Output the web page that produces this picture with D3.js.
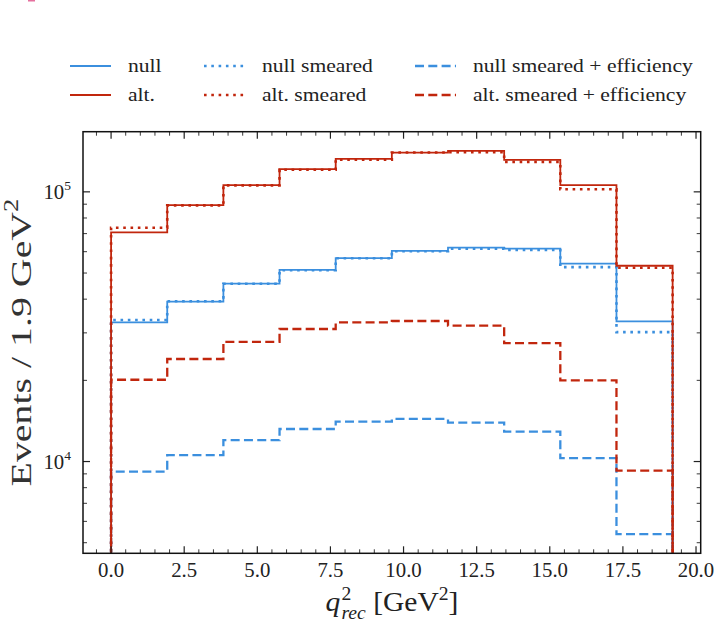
<!DOCTYPE html>
<html lang="en">
<head>
<meta charset="UTF-8">
<title>q2 rec histogram</title>
<script src="https://d3js.org/d3.v7.min.js"></script>
<style>
    body { margin: 0; padding: 0; background: #fff; }
    svg { display: block; }
    text { font-family: 'Liberation Serif', 'DejaVu Serif', serif; fill: #222; }
</style>
</head>
<body>
<svg id="chart" width="718" height="628"></svg>
<script>
// bin edges in GeV^2 (10 bins of 1.92)
const binEdges = [0, 1.92, 3.84, 5.76, 7.68, 9.6, 11.52, 13.44, 15.36, 17.28, 19.2];

// events per bin
const nullTrue      = [32800, 39200, 45700, 51400, 56800, 60400, 62100, 61600, 54200, 33100];
const altTrue       = [70700, 89300, 105900, 121400, 132600, 139900, 141900, 131500, 105900, 53200];
const nullSmeared   = [33500, 39300, 45600, 51200, 56700, 60200, 61500, 60900, 52600, 30200];
const altSmeared    = [73600, 89100, 105700, 120700, 131500, 139900, 140400, 129200, 102300, 52300];
const nullEff       = [9180, 10560, 12000, 13200, 14070, 14400, 13950, 12900, 10300, 5380];
const altEff        = [20100, 24000, 27800, 31000, 32800, 33200, 31900, 27500, 20000, 9260];

const xTicks = [0, 2.5, 5, 7.5, 10, 12.5, 15, 17.5, 20];

const blue = "#3b8fde";
const red = "#c1260d";

const series = [
    { name: "null", values: nullTrue, color: blue, style: "solid" },
    { name: "null smeared", values: nullSmeared, color: blue, style: "dotted" },
    { name: "null smeared + efficiency", values: nullEff, color: blue, style: "dashed" },
    { name: "alt.", values: altTrue, color: red, style: "solid" },
    { name: "alt. smeared", values: altSmeared, color: red, style: "dotted" },
    { name: "alt. smeared + efficiency", values: altEff, color: red, style: "dashed" }
];

const styles = {
    solid:  { width: 1.8, dash: null },
    dotted: { width: 2.6, dash: "2.6,4.7" },
    dashed: { width: 2.3, dash: "9,4.3" }
};

const svg = d3.select("#chart");
const pLeft = 83, pRight = 700.7, pTop = 131.7, pBottom = 553.3;

// matplotlib style 5% margins
const xMin = binEdges[0], xMax = binEdges[binEdges.length - 1];
const xPad = (xMax - xMin) * 0.05;
const x = d3.scaleLinear().domain([xMin - xPad, xMax + xPad]).range([pLeft, pRight]);

const allVals = series.flatMap(s => s.values);
const lMin = Math.log10(d3.min(allVals)), lMax = Math.log10(d3.max(allVals));
const lPad = (lMax - lMin) * 0.05;
const y = d3.scaleLog().domain([10 ** (lMin - lPad), 10 ** (lMax + lPad)]).range([pBottom, pTop]);

svg.append("defs").append("clipPath").attr("id", "plot-clip")
    .append("rect").attr("x", pLeft).attr("y", pTop)
    .attr("width", pRight - pLeft).attr("height", pBottom - pTop);

// step outlines
const line = d3.line();
function stepPoints(values) {
    const pts = [[x(binEdges[0]), pBottom + 20]];
    values.forEach((v, i) => {
        pts.push([x(binEdges[i]), y(v)]);
        pts.push([x(binEdges[i + 1]), y(v)]);
    });
    pts.push([x(binEdges[binEdges.length - 1]), pBottom + 20]);
    return pts;
}

const plot = svg.append("g").attr("clip-path", "url(#plot-clip)");
plot.selectAll("path")
    .data(series)
    .enter().append("path")
    .attr("d", d => line(stepPoints(d.values)))
    .attr("fill", "none")
    .attr("stroke", d => d.color)
    .attr("stroke-width", d => styles[d.style].width)
    .attr("stroke-dasharray", d => styles[d.style].dash)
    .attr("stroke-linejoin", "miter");

// ticks, all pointing inward on all four sides
const ticks = svg.append("g").attr("stroke", "#222");
const xMinor = d3.range(-0.5, 20.5, 0.5).filter(v => x(v) >= pLeft && x(v) <= pRight && v % 2.5 !== 0);
xTicks.forEach(v => {
    ticks.append("line").attr("x1", x(v)).attr("x2", x(v)).attr("y1", pBottom).attr("y2", pBottom - 7).attr("stroke-width", 1.2);
    ticks.append("line").attr("x1", x(v)).attr("x2", x(v)).attr("y1", pTop).attr("y2", pTop + 7).attr("stroke-width", 1.2);
});
xMinor.forEach(v => {
    ticks.append("line").attr("x1", x(v)).attr("x2", x(v)).attr("y1", pBottom).attr("y2", pBottom - 4).attr("stroke-width", 0.9);
    ticks.append("line").attr("x1", x(v)).attr("x2", x(v)).attr("y1", pTop).attr("y2", pTop + 4).attr("stroke-width", 0.9);
});

const yMajor = [1e4, 1e5];
const yMinor = y.ticks().filter(v => !yMajor.includes(v));
yMajor.forEach(v => {
    ticks.append("line").attr("x1", pLeft).attr("x2", pLeft + 7).attr("y1", y(v)).attr("y2", y(v)).attr("stroke-width", 1.2);
    ticks.append("line").attr("x1", pRight).attr("x2", pRight - 7).attr("y1", y(v)).attr("y2", y(v)).attr("stroke-width", 1.2);
});
yMinor.forEach(v => {
    ticks.append("line").attr("x1", pLeft).attr("x2", pLeft + 4).attr("y1", y(v)).attr("y2", y(v)).attr("stroke-width", 0.9);
    ticks.append("line").attr("x1", pRight).attr("x2", pRight - 4).attr("y1", y(v)).attr("y2", y(v)).attr("stroke-width", 0.9);
});

// frame
svg.append("rect")
    .attr("x", pLeft).attr("y", pTop)
    .attr("width", pRight - pLeft).attr("height", pBottom - pTop)
    .attr("fill", "none").attr("stroke", "#111").attr("stroke-width", 1.5);

// the reference uses a wider (LaTeX) face, so stretch text horizontally to match
function widthOf(sel) { return sel.node().getComputedTextLength(); }

// x tick labels
const xLabels = svg.append("g").selectAll("text")
    .data(xTicks)
    .enter().append("text")
    .attr("transform", d => `translate(${x(d)},577)`)
    .attr("text-anchor", "middle")
    .attr("font-size", 20)
    .text(d => d.toFixed(1));
const tickStretch = 26 / widthOf(xLabels.filter((d, i) => i === 1));
xLabels.attr("transform", d => `translate(${x(d)},577) scale(${tickStretch},1)`);

// y tick labels (10^n)
yMajor.forEach(v => {
    const t = svg.append("text")
        .attr("transform", `translate(71,${y(v) + 7}) scale(${tickStretch},1)`)
        .attr("text-anchor", "end")
        .attr("font-size", 20);
    t.append("tspan").text("10");
    t.append("tspan").attr("font-size", 13).attr("dy", -9).text(Math.round(Math.log10(v)));
});

// axis labels
const xl = svg.append("text")
    .attr("text-anchor", "middle")
    .attr("font-size", 27);
xl.append("tspan").attr("font-style", "italic").text("q");
xl.append("tspan").attr("font-size", 18).attr("dy", -11).attr("dx", 1).text("2");
xl.append("tspan").attr("font-size", 18).attr("font-style", "italic").attr("dy", 19).attr("dx", -9).text("rec");
xl.append("tspan").attr("dy", -8).text(" [GeV");
xl.append("tspan").attr("font-size", 18).attr("dy", -11).text("2");
xl.append("tspan").attr("dy", 11).text("]");
const xlStretch = 133 / xl.node().getBBox().width;
xl.attr("transform", `translate(392,611) scale(${xlStretch},1)`);

const yl = svg.append("text")
    .attr("text-anchor", "middle")
    .attr("font-size", 30)
    .style("fill", "#333");
yl.append("tspan").text("Events / 1.9 GeV");
yl.append("tspan").attr("font-size", 20).attr("dy", -13).text("2");
const ylStretch = 288 / yl.node().getBBox().width;
yl.attr("transform", `translate(31, ${(pTop + pBottom) / 2}) rotate(-90) scale(${ylStretch},1)`);

// legend, three columns by two rows
const legendCols = [70, 204, 415];
const legendRows = [66, 95];
const legendOrder = [
    ["null", 0, 0], ["alt.", 0, 1],
    ["null smeared", 1, 0], ["alt. smeared", 1, 1],
    ["null smeared + efficiency", 2, 0], ["alt. smeared + efficiency", 2, 1]
];
const legend = svg.append("g");
const legendTexts = [];
legendOrder.forEach(([name, c, r]) => {
    const s = series.find(d => d.name === name);
    const lx = legendCols[c], ly = legendRows[r];
    legend.append("line")
        .attr("x1", lx).attr("x2", lx + 41)
        .attr("y1", ly).attr("y2", ly)
        .attr("stroke", s.color)
        .attr("stroke-width", styles[s.style].width)
        .attr("stroke-dasharray", styles[s.style].dash);
    legendTexts.push(legend.append("text")
        .datum([lx + 58, ly + 6])
        .attr("font-size", 19)
        .text(name));
});
const legStretch = 220 / widthOf(legendTexts[4]);
legendTexts.forEach(t => t.attr("transform", d => `translate(${d[0]},${d[1]}) scale(${legStretch},1)`));

// small clipped mark in the top left corner
svg.append("rect").attr("x", 28).attr("y", 0).attr("width", 7).attr("height", 1.5).attr("fill", "#e5709e");
</script>
</body>
</html>
